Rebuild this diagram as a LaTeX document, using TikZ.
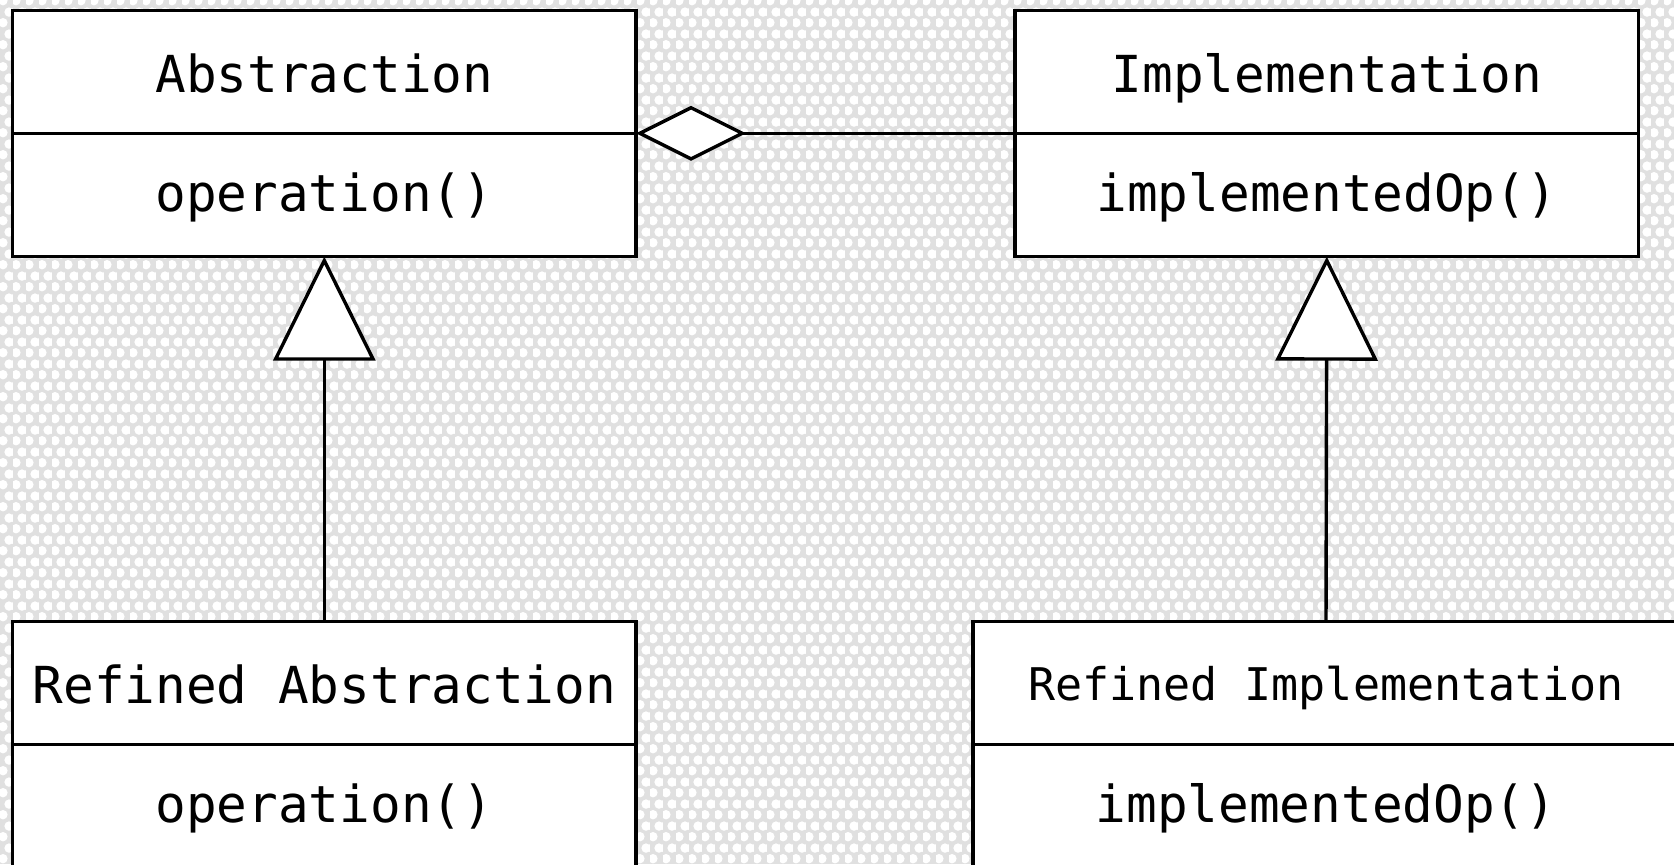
\documentclass[tikz,border=0pt]{standalone}
\usepackage{fontspec}
\setmonofont{DejaVu Sans Mono}
\usetikzlibrary{positioning,arrows.meta,patterns.meta}

\tikzdeclarepattern{
  name=hexdots,
  type=colored,
  bottom left={(0pt,0pt)},
  top right={(6.25pt,10.8pt)},
  tile size={(6.25pt,10.8pt)},
  code={
    \fill[white] (1.5625pt,2.7pt) circle (2.4pt);
    \fill[white] (4.6875pt,8.1pt) circle (2.4pt);
  }
}

\begin{document}
\begin{tikzpicture}[x=0.5pt, y=0.5pt,
                    titlenode/.style={rectangle, draw=black, fill=white, line width=1.7pt, outer sep=0pt, inner sep=0pt,
                                      minimum width=311.75pt, minimum height=61.3pt,
                                      font=\fontsize{25.5}{30}\selectfont\ttfamily, text height=24pt, text depth=3.3pt},
                    opnode/.style={titlenode, minimum height=61.7pt, text depth=7.3pt},
                    link/.style={line width=1.7pt}, node distance=0pt]
                    \fill[gray!24] (0,0) rectangle (1674,864);
                    \fill[pattern=hexdots] (0,0) rectangle (1674,864);
                    \useasboundingbox (0,0) rectangle (1674,864);

                    \node[titlenode] (abs-0) at (324.3,792) {Abstraction};
                    \node[opnode] (abs-1) [below= of abs-0] {operation()};
                    \node[titlenode] (impl-0) at (1326.8,792) {Implementation};
                    \node[opnode] (impl-1) [below= of impl-0] {implementedOp()};
                    \node[titlenode] (rabs-0) at (324.3,181.1) {Refined Abstraction};
                    \node[opnode] (rabs-1) [below= of rabs-0] {operation()};
                    \node[titlenode, minimum width=353pt, font=\fontsize{22.5}{27}\selectfont\ttfamily,
                          text height=21pt, text depth=3.2pt] (rimpl-0) at (1326,181.1) {Refined Implementation};
                    \node[opnode, minimum width=353pt] (rimpl-1) [below= of rimpl-0] {implementedOp()};

                    \draw[link, {Diamond[fill=white, length=55pt, width=27.5pt]}-] (abs-0.south east) -- (impl-0.south west);
                    \draw[link, -{Triangle[fill=white, length=52pt, width=51pt]}] (rabs-0.north) -- (abs-1.south);
                    \draw[link, -{Triangle[fill=white, length=52pt, width=51pt]}] (rimpl-0.north) -- (impl-1.south);
                    \end{tikzpicture}
\end{document}
